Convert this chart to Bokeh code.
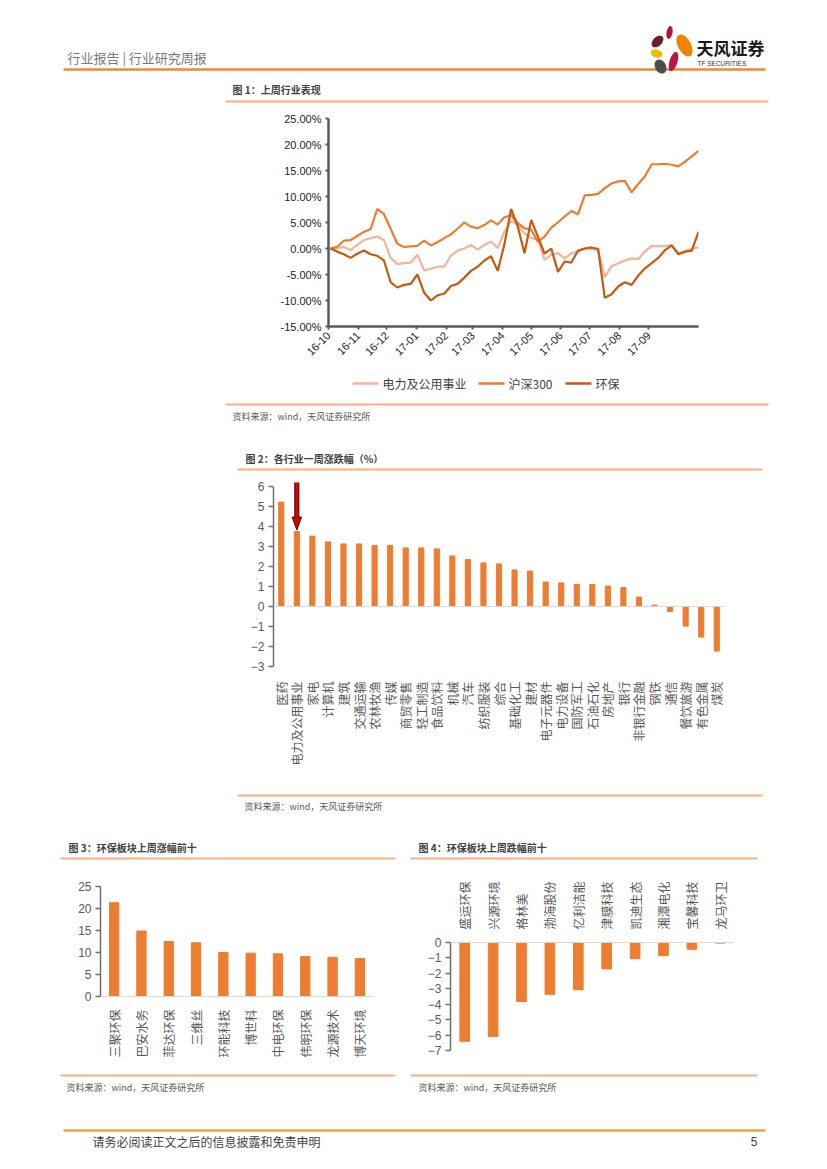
import math
import pandas as pd
from bokeh.plotting import figure
from bokeh.layouts import column, row
from bokeh.models import (Range1d, FactorRange, Spacer, FixedTicker, NumeralTickFormatter,
                          DatetimeTickFormatter, Span)
from bokeh.core.properties import value
from bokeh.embed import file_html
from bokeh.resources import INLINE

CJK = "Noto Sans CJK SC"
LAT = "Liberation Sans"

# ---------------- Figure 1 data (weekly samples, % change) ----------------
week_start = "2016-10-03"
axis_start = "2016-10-01"
hs300 = [0.0, 0.3, 1.5, 1.6, 2.4, 3.2, 3.7, 7.6, 6.6, 3.8, 0.9, 0.3, 0.4, 0.5, 1.5, 0.6,
         1.2, 2.0, 2.7, 3.8, 5.0, 4.2, 3.9, 4.5, 5.4, 4.6, 6.0, 6.4, 4.9, 3.9, 3.6, 1.3,
         2.3, 4.0, 5.0, 6.2, 7.2, 6.6, 10.2, 10.3, 10.5, 11.6, 12.5, 12.9, 13.0, 10.8,
         12.4, 13.9, 16.2, 16.2, 16.3, 16.1, 15.8, 16.7, 17.7, 18.8]
dianli = [0.0, 0.0, 0.3, -0.3, 0.7, 1.6, 2.0, 2.3, 1.6, -1.8, -3.0, -2.8, -2.7, -1.2, -4.2,
          -3.9, -3.5, -3.5, -1.4, -0.4, 0.0, 0.7, -0.2, 0.7, 1.3, 0.1, 3.2, 5.3, 4.5, 2.9,
          2.0, 1.7, -2.2, -1.2, -0.9, -1.9, -0.9, -0.6, 0.0, -0.1, -0.3, -5.5, -3.4, -2.9,
          -2.3, -1.9, -2.0, -0.6, 0.5, 0.4, 0.5, 0.6, -1.0, -0.5, 0.0, 0.2]
huanbao = [0.0, -0.6, -1.1, -1.8, -1.0, -0.4, -1.1, -1.4, -2.3, -6.5, -7.5, -7.0, -6.8, -5.0,
           -8.5, -10.0, -9.0, -8.7, -7.2, -6.8, -5.6, -4.3, -3.5, -2.3, -1.5, -4.3, 0.8, 7.6,
           4.2, -0.9, 5.5, 2.3, -1.0, 0.0, -4.5, -2.5, -2.7, -0.4, 0.0, 0.2, -0.1, -9.5, -8.8,
           -7.3, -6.5, -7.0, -5.2, -3.8, -2.8, -1.8, -0.3, 0.6, -1.1, -0.6, -0.4, 3.2]
series_names = ["电力及公用事业", "沪深300", "环保"]
series_colors = ["#F4B39B", "#ED7D31", "#C55A11"]
month_ticks = ["2016-10-01", "2016-11-01", "2016-12-01", "2017-01-01", "2017-02-01",
               "2017-03-01", "2017-04-01", "2017-05-01", "2017-06-01", "2017-07-01",
               "2017-08-01", "2017-09-01"]
pct_ticks = [-0.15, -0.10, -0.05, 0.0, 0.05, 0.10, 0.15, 0.20, 0.25]

# ---------------- Figure 2 data ----------------
ind_names = ["医药", "电力及公用事业", "家电", "计算机", "建筑", "交通运输", "农林牧渔", "传媒",
             "商贸零售", "轻工制造", "食品饮料", "机械", "汽车", "纺织服装", "综合", "基础化工",
             "建材", "电子元器件", "电力设备", "国防军工", "石油石化", "房地产", "银行",
             "非银行金融", "钢铁", "通信", "餐饮旅游", "有色金属", "煤炭"]
ind_chg = [5.22, 3.75, 3.52, 3.23, 3.13, 3.13, 3.05, 3.05, 2.93, 2.93, 2.88, 2.53, 2.35, 2.18,
           2.13, 1.83, 1.77, 1.22, 1.18, 1.10, 1.10, 1.02, 0.95, 0.47, 0.07, -0.25, -0.98,
           -1.53, -2.23]
highlight = "电力及公用事业"

# ---------------- Figure 3 / 4 data ----------------
top_names = ["三聚环保", "巴安水务", "菲达环保", "三维丝", "环能科技", "博世科", "中电环保",
             "伟明环保", "龙源技术", "博天环境"]
top_chg = [21.3, 14.9, 12.5, 12.2, 10.0, 9.85, 9.7, 9.1, 8.9, 8.65]
bot_names = ["盛运环保", "兴源环境", "格林美", "渤海股份", "亿利洁能", "津膜科技", "凯迪生态",
             "湘潭电化", "宝馨科技", "龙马环卫"]
bot_chg = [-6.4, -6.1, -3.82, -3.36, -3.06, -1.71, -1.05, -0.85, -0.44, -0.04]

ORANGE = "#ED7D31"
GRAY = "#595959"
PAGE_W = 819


def strip(y0, y1):
    p = figure(width=PAGE_W, height=y1 - y0, x_range=Range1d(0, PAGE_W), y_range=Range1d(y1, y0),
               x_axis_type=None, y_axis_type=None, output_backend="svg",
               toolbar_location=None, min_border=0)
    p.outline_line_color = None
    return p


def hline(p, x0, x1, y, color="#F4B183", w=2):
    p.segment(x0=[x0], y0=[y], x1=[x1], y1=[y], line_color=color, line_width=w)


def label(p, x, y, s, size, color=GRAY, font=CJK, style="normal", align="left"):
    p.text(x=[x], y=[y], text=[s], text_font=value(font), text_font_size=f"{size}px",
           text_color=color, text_font_style=style, text_align=align, text_baseline="middle")


SRC = "资料来源：wind，天风证券研究所"

# ---------------- strip 1: header + fig1 title ----------------
s1 = strip(0, 112)
label(s1, 67, 57, "行业报告 | 行业研究周报", 13, color="#7a7a7a")
hline(s1, 63, 765, 69, "#EF8A34", 2.5)
s1.ellipse(x=[669, 657, 684, 656, 673, 660], y=[32, 41, 45, 53, 61, 66],
           width=[6, 9, 13, 12, 8, 11], height=[13, 14, 24, 8, 20, 15],
           angle=[-0.2, -0.8, 0.5, -0.3, -0.3, 0.5],
           fill_color=["#B5123A", "#6E1D2A", "#F08300", "#F5B800", "#C0143C", "#4D4D4D"],
           line_color=None)
label(s1, 696, 47, "天风证券", 17, color="#1a1a1a", style="bold")
label(s1, 697, 63, "TF SECURITIES", 6.5, color="#333333", font=LAT)
label(s1, 232, 89, "图 1：上周行业表现", 10, color="#404040", style="bold")
hline(s1, 225, 768, 101)

# ---------------- chart 1 ----------------
dates = pd.date_range(week_start, periods=len(hs300), freq="7D")
p1 = figure(width=543, height=254, x_axis_type="datetime",
            x_range=Range1d(pd.Timestamp(axis_start), dates[-1]),
            y_range=Range1d(pct_ticks[0], pct_ticks[-1]),
            min_border_left=103, min_border_right=70, min_border_top=6, min_border_bottom=40,
            output_backend="svg", toolbar_location=None)
p1.grid.visible = False
p1.outline_line_color = None
for vals, col in zip([dianli, hs300, huanbao], series_colors):
    p1.line(dates, [v / 100 for v in vals], line_color=col, line_width=2.2)
p1.xaxis.ticker = FixedTicker(ticks=[pd.Timestamp(t).value / 1e6 for t in month_ticks])
fmt = "%y-%m"
p1.xaxis.formatter = DatetimeTickFormatter(days=fmt, months=fmt, years=fmt, hours=fmt,
                                           hourmin=fmt, minutes=fmt)
p1.xaxis.major_label_orientation = 0.785
p1.yaxis.ticker = FixedTicker(ticks=pct_ticks)
p1.yaxis.formatter = NumeralTickFormatter(format="0.00%")
for ax in (p1.xaxis, p1.yaxis):
    ax.axis_line_color = "#5a5a5a"
    ax.axis_line_width = 2.5
    ax.major_tick_line_color = "#5a5a5a"
    ax.major_tick_line_width = 2
    ax.major_tick_out = 3
    ax.major_tick_in = 0
    ax.minor_tick_line_color = None
    ax.major_label_text_font = LAT
    ax.major_label_text_font_size = "11px"
    ax.major_label_text_color = "#222222"
    ax.major_label_standoff = 4

# ---------------- strip 2 (legend of fig 1, source, fig 2 title) ----------------
s2 = strip(366, 478)
leg_x = [352, 478, 565]
for lx, name, col in zip(leg_x, series_names, series_colors):
    s2.segment(x0=[lx], y0=[383], x1=[lx + 26], y1=[383], line_color=col, line_width=2.5)
    label(s2, lx + 30, 383, name, 12, color="#404040")
hline(s2, 225, 768, 404)
label(s2, 232, 416, SRC, 9)
label(s2, 245, 458, "图 2：各行业一周涨跌幅（%）", 10, color="#404040", style="bold")
hline(s2, 237, 762, 469)

VERT = math.pi / 2


def style_bar_chart(p, ticks, bounds, label_size=12, standoff=8):
    p.grid.visible = False
    p.outline_line_color = None
    p.yaxis.ticker = FixedTicker(ticks=ticks)
    p.yaxis.bounds = bounds
    p.yaxis.axis_line_color = "#6e6e6e"
    p.yaxis.axis_line_width = 1.5
    p.yaxis.major_tick_line_color = "#6e6e6e"
    p.yaxis.major_tick_line_width = 1.5
    p.yaxis.major_tick_out = 5
    p.yaxis.major_tick_in = 0
    p.yaxis.minor_tick_line_color = None
    p.yaxis.major_label_text_font = LAT
    p.yaxis.major_label_text_font_size = "12px"
    p.yaxis.major_label_text_color = GRAY
    p.yaxis.major_label_standoff = 4
    p.xaxis.major_tick_line_color = None
    p.xaxis.minor_tick_line_color = None
    p.xaxis.major_label_orientation = VERT
    p.xaxis.major_label_text_font = CJK
    p.xaxis.major_label_text_font_size = f"{label_size}px"
    p.xaxis.major_label_text_color = GRAY
    p.xaxis.major_label_standoff = standoff


# ---------------- chart 2 ----------------
p2 = figure(width=525, height=312, x_range=FactorRange(factors=ind_names),
            y_range=Range1d(-3, 6.2), min_border_left=36, min_border_right=38,
            min_border_top=4, min_border_bottom=124, output_backend="svg",
            toolbar_location=None)
p2.vbar(x=ind_names, top=ind_chg, width=0.33, color=ORANGE)
p2.add_layout(Span(location=0, dimension="width", line_color="#D9D9D9", line_width=1))
style_bar_chart(p2, list(range(-3, 7)), (-3, 6), label_size=12, standoff=9)
p2.xaxis.axis_line_color = None
xi = ind_names.index(highlight) + 0.5
top_val = ind_chg[ind_names.index(highlight)]
p2.patch(x=[xi - 0.13, xi + 0.13, xi + 0.13, xi + 0.3, xi, xi - 0.3, xi - 0.13],
         y=[6.3, 6.3, top_val + 0.72, top_val + 0.72, top_val + 0.08, top_val + 0.72,
            top_val + 0.72],
         fill_color="#E00000", line_color="#3a0000", line_width=1)

# ---------------- strip 3 ----------------
s3 = strip(790, 878)
hline(s3, 237, 762, 795)
label(s3, 244, 806, SRC, 9)
label(s3, 68, 847, "图 3：环保板块上周涨幅前十", 10, color="#404040", style="bold")
hline(s3, 60, 395, 858)
label(s3, 418, 847, "图 4：环保板块上周跌幅前十", 10, color="#404040", style="bold")
hline(s3, 410, 757, 858)

# ---------------- chart 3 ----------------
p3 = figure(width=335, height=192, x_range=FactorRange(factors=top_names),
            y_range=Range1d(0, 25), min_border_left=40, min_border_right=22,
            min_border_top=8, min_border_bottom=74, output_backend="svg",
            toolbar_location=None)
p3.vbar(x=top_names, top=top_chg, width=0.34, color=ORANGE)
style_bar_chart(p3, list(range(0, 26, 5)), (0, 25), label_size=12, standoff=7)
p3.xaxis.axis_line_color = "#D9D9D9"

# ---------------- chart 4 ----------------
p4 = figure(width=347, height=192, x_range=FactorRange(factors=bot_names),
            y_range=Range1d(-7, 0), x_axis_location="above", min_border_left=40,
            min_border_right=23, min_border_top=57, min_border_bottom=20,
            output_backend="svg", toolbar_location=None)
p4.vbar(x=bot_names, top=bot_chg, bottom=0, width=0.34, color=ORANGE)
style_bar_chart(p4, list(range(-7, 1)), (-7, 0), label_size=12, standoff=7)
p4.xaxis.axis_line_color = "#D9D9D9"

# ---------------- strip 4 ----------------
s4 = strip(1070, 1161)
hline(s4, 60, 395, 1075)
hline(s4, 410, 757, 1075)
label(s4, 66, 1087, SRC, 9)
label(s4, 418, 1087, SRC, 9)
hline(s4, 63, 765, 1130, "#E8A540", 2.5)
label(s4, 92, 1141, "请务必阅读正文之后的信息披露和免责申明", 12, color="#3f3f3f")
label(s4, 757, 1141, "5", 12, color="#3f3f3f", font=LAT, align="right")

layout = column(
    s1,
    row(Spacer(width=225, height=254), p1, Spacer(width=51, height=254)),
    s2,
    row(Spacer(width=237, height=312), p2, Spacer(width=57, height=312)),
    s3,
    row(Spacer(width=60, height=192), column(p3), Spacer(width=15, height=192), column(p4),
        Spacer(width=62, height=192)),
    s4,
)

open("out.html", "w").write(file_html(layout, INLINE))
